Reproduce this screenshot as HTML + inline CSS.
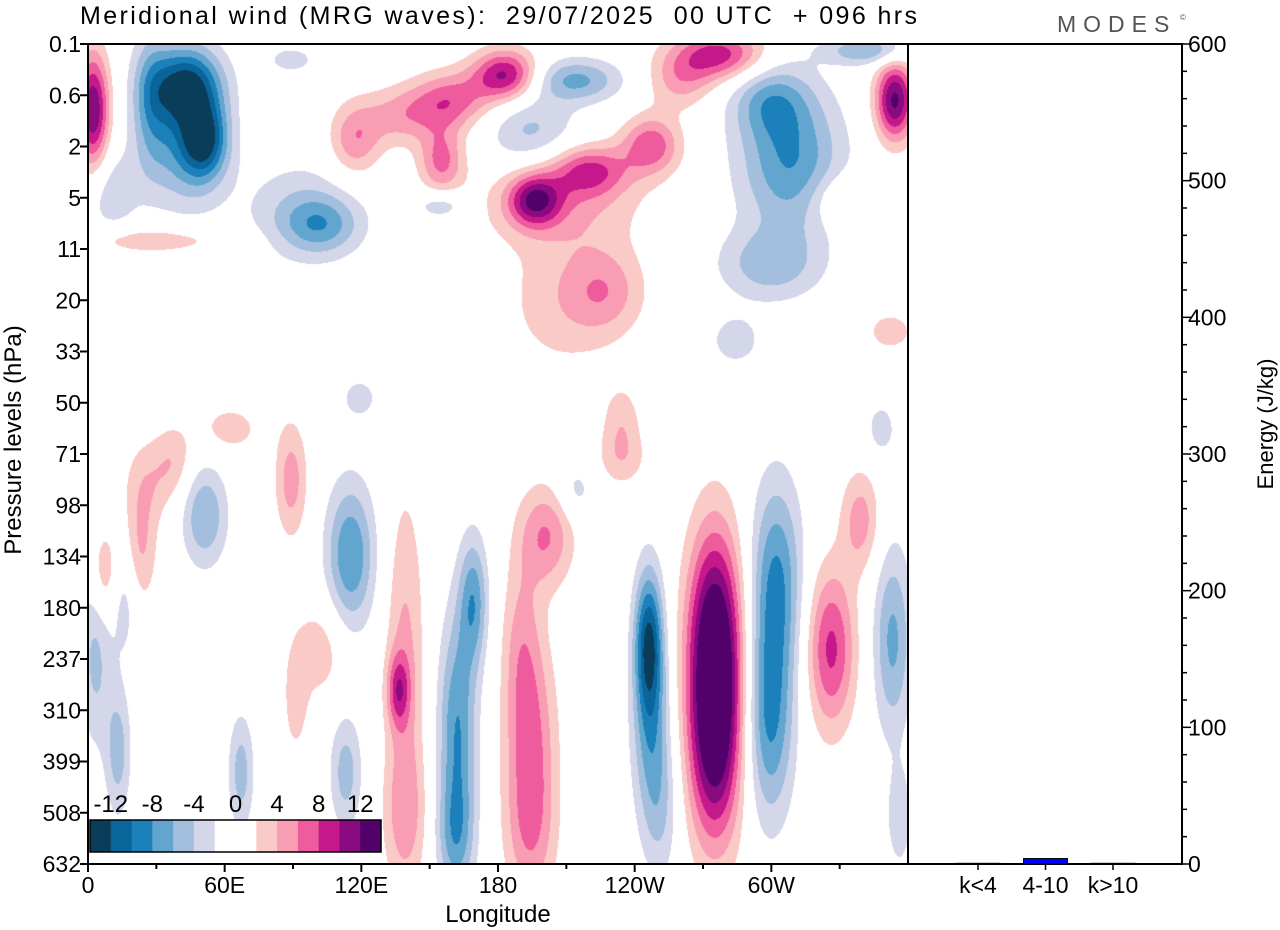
<!DOCTYPE html>
<html><head><meta charset="utf-8">
<style>
html,body{margin:0;padding:0;background:#fff;}
body{width:1280px;height:930px;position:relative;overflow:hidden;font-family:"Liberation Sans",sans-serif;}
#field{position:absolute;left:88px;top:44px;}
svg{position:absolute;left:0;top:0;}
text{white-space:pre;}
</style></head>
<body>
<canvas id="field" width="820" height="820"></canvas>
<svg id="ov" width="1280" height="930"></svg>
<script>
// ---- data ----
const levelLabels=["0.1","0.6","2","5","11","20","33","50","71","98","134","180","237","310","399","508","632"];
const lonTickVals=[0,60,120,180,240,300];
const lonTickLabels=["0","60E","120E","180","120W","60W"];
const colorLevels=[-12,-10,-8,-6,-4,-2,0,2,4,6,8,10,12];
const cbLabels=["-12","-8","-4","0","4","8","12"];
const palette=["#093d5a","#09659a","#1c80bb","#62a6d0","#a3bfdd","#d4d6e9","#ffffff","#ffffff","#facac7","#f99db5","#ef5c9d","#c5198b","#8a0a80","#52006a"];
const energyCats=["k<4","4-10","k>10"];
const energyVals=[0.5,4,0.5];
const energyTicks=[0,100,200,300,400,500,600];
// blobs (lon deg, level index, amplitude m/s, sigma lon deg, sigma level)
const blobLon=[275,275,246,247,302,299,326,353,201,194,190,194,162,169,161,139,136,139,115,51,89,23,7,27,3,13,16,67,113,102,91,38,339,356,214,348,251,234,62,
43,51,43,27,2,183,159,137,117,155,196,220,247,207,277,260,214,194,308,299,354,343,102,93,27,227,207,234,299,284,155,330,89,119,352,10];
const blobLev=[11.4,13.6,11.63,13.4,10.46,13.2,11.8,11.63,9.58,13.68,11.6,15.5,13.4,10.85,15.5,12.0,12.6,15.1,9.97,9.2,8.5,9.8,10.3,8.5,12.0,13.8,10.85,14.2,14.2,11.8,12.8,8.1,9.29,15.1,8.7,7.5,15.0,8.1,7.5,
0.8,1.87,2.07,1.1,1.29,0.6,1.1,1.4,1.87,2.26,3.04,2.46,1.97,3.1,0.2,0.7,0.7,1.68,2.26,1.09,1.09,0.12,3.53,3.24,3.82,4.8,5.0,7.34,4.3,5.78,3.14,3.04,0.3,6.9,5.6,2.9];
const blobAmp=[12.5,12.5,-11.5,-6,-8,-8,8.5,-6.5,6,6.5,3.5,3.5,-8,-7,-5,4.5,6.5,4,-8,-6,5,4.2,4.2,3,-4.5,-5,-3,-5,-5,3.3,3,3,5,-3.5,-3,-3,-3.5,3,3,
-12.5,-9,-6.5,-5,12,10.5,7,4.5,5.5,6.5,9.5,7.5,7.5,4,9,4.5,-6.5,-4.5,-8,-5,12.5,-6,-5.5,-3.5,3.6,4.5,3,3.2,-5,-3.3,-4,3.3,-3,-3,3,-3.5];
const blobSx=[8.5,8.5,4.5,6,8,7.5,7.5,6,8.5,8,6,8,6,4.5,6,6,3.5,7,7.5,7,5,5,4,8,5,4,4,4,5,8,4,6,6,4,6,5,6,8,10,
11,7,12,6,5,10,12,12,8,7,8,12,9,25,14,10,14,14,16,12,6,14,12,18,26,12,18,6,16,8,8,9,8,6,8,8];
const blobSy=[1.5,1.5,1.0,1.2,1.4,1.4,1.1,1.3,0.7,1.5,1.2,1.0,1.6,0.9,0.8,2.3,0.5,1.0,1.0,0.7,0.8,0.8,0.6,0.6,1.2,0.9,0.8,0.8,0.8,0.7,0.8,0.5,0.7,0.7,0.4,0.4,1.0,0.4,0.35,
0.55,0.5,0.8,1.0,0.8,0.35,0.4,0.4,0.5,0.45,0.35,0.35,0.4,0.6,0.35,0.4,0.3,0.5,1.0,0.5,0.55,0.2,0.4,0.7,0.2,0.6,1.0,0.5,0.5,0.35,0.2,0.35,0.2,0.3,0.3,0.6];

// ---- geometry ----
const X0=88,X1=908,Y0=44,Y1=864;
const xOf=lon=>X0+lon/360*(X1-X0);
const yOf=lev=>Y0+lev*(Y1-Y0)/(levelLabels.length-1);
const EX0=908,EX1=1182;
const eY=v=>Y1-v/600*(Y1-Y0);

// ---- field ----
(function(){
  const c=document.getElementById('field'),ctx=c.getContext('2d');
  const W=820,H=820,img=ctx.createImageData(W,H);
  const rgb=palette.map(h=>[parseInt(h.slice(1,3),16),parseInt(h.slice(3,5),16),parseInt(h.slice(5,7),16)]);
  const B=blobLon.map((l,i)=>({cx:xOf(l)-X0,cy:yOf(blobLev[i])-Y0,a:blobAmp[i],sx:blobSx[i]/360*820,sy:blobSy[i]*51.25}));
  for(let y=0;y<H;y++){for(let x=0;x<W;x++){
    let v=0;
    for(const b of B){const dx=(x-b.cx)/b.sx,dy=(y-b.cy)/b.sy;const d=dx*dx+dy*dy;if(d<18)v+=b.a*Math.exp(-0.5*d);}
    let k=0;while(k<colorLevels.length&&v>=colorLevels[k])k++;
    const p=rgb[k],o=(y*W+x)*4;img.data[o]=p[0];img.data[o+1]=p[1];img.data[o+2]=p[2];img.data[o+3]=255;
  }}
  ctx.putImageData(img,0,0);
})();

// ---- overlay ----
const NS="http://www.w3.org/2000/svg",svg=document.getElementById('ov');
function mk(tag,at,txt){const e=document.createElementNS(NS,tag);for(const k in at)e.setAttribute(k,at[k]);if(txt!==undefined)e.textContent=txt;svg.appendChild(e);return e;}
let e;
e=mk('text',{x:80,y:24,'font-size':25,fill:'#000',textLength:837,lengthAdjust:'spacing'},'Meridional wind (MRG waves):  29/07/2025  00 UTC  + 096 hrs');


e=mk('text',{x:1057,y:32,'font-size':23,fill:'#555','letter-spacing':'7'},'MODES');


e=mk('text',{x:1180,y:20,'font-size':8,fill:'#555'},'©');


e=mk('rect',{x:X0,y:Y0,width:X1-X0,height:Y1-Y0,fill:'none',stroke:'#000','stroke-width':2});


e=mk('rect',{x:EX0,y:Y0,width:EX1-EX0,height:Y1-Y0,fill:'none',stroke:'#000','stroke-width':2});


levelLabels.forEach((l,i)=>{const y=yOf(i);
  e=mk('line',{x1:X0-8,x2:X0,y1:y,y2:y,stroke:'#000','stroke-width':2});
  
  
  e=mk('text',{x:X0-7,y:y+8,'font-size':23,'text-anchor':'end'},l);
  
  
});
e=mk('text',{x:0,y:0,'font-size':24,'text-anchor':'middle',transform:'translate(21,440) rotate(-90)'},'Pressure levels (hPa)');


for(let lon=0;lon<360;lon+=30){const x=xOf(lon);const major=lon%60===0;
  e=mk('line',{x1:x,x2:x,y1:Y1,y2:Y1+(major?8:5),stroke:'#000','stroke-width':2});
  
  }
lonTickVals.forEach((v,i)=>{
  e=mk('text',{x:xOf(v),y:Y1+29,'font-size':23,'text-anchor':'middle'},lonTickLabels[i]);
  
  });
e=mk('text',{x:498,y:922,'font-size':24,'text-anchor':'middle'},'Longitude');


const cbX=90,cbY=820,cbW=291,cbH=32,bw=cbW/palette.length;
palette.forEach((c,i)=>{e=mk('rect',{x:cbX+i*bw,y:cbY,width:bw+0.5,height:cbH,fill:c});
  
  });
e=mk('rect',{x:cbX,y:cbY,width:cbW,height:cbH,fill:'none',stroke:'#000','stroke-width':1.5});


cbLabels.forEach((l,i)=>{const x=cbX+bw*(1+2*i);
  e=mk('text',{x:x,y:cbY-8,'font-size':24,'text-anchor':'middle'},l);
  
  });
for(let v=0;v<=600;v+=20){const y=eY(v);const major=v%100===0;
  e=mk('line',{x1:EX1,x2:EX1+(major?9:5),y1:y,y2:y,stroke:'#000','stroke-width':1.5});
  
  }
energyTicks.forEach(v=>{e=mk('text',{x:EX1+6,y:eY(v)+8,'font-size':23},String(v));
  
  });
e=mk('text',{x:0,y:0,'font-size':22,'text-anchor':'middle',transform:'translate(1273,424) rotate(-90)'},'Energy (J/kg)');


const catX=[0,1,2].map(i=>978+i*67.5);
energyCats.forEach((c,i)=>{const x=catX[i];
  e=mk('line',{x1:x,x2:x,y1:Y1,y2:Y1+6,stroke:'#000','stroke-width':1.5});
  
  
  e=mk('text',{x:x,y:Y1+29,'font-size':23,'text-anchor':'middle'},c);
  
  
  const h=Math.max(Y1-eY(energyVals[i]),0.5);
  e=mk('rect',{x:x-22,y:Y1-h,width:44,height:h,fill:'#0000ff',stroke:'#000','stroke-width':1});
  
  
});
</script>
</body></html>
